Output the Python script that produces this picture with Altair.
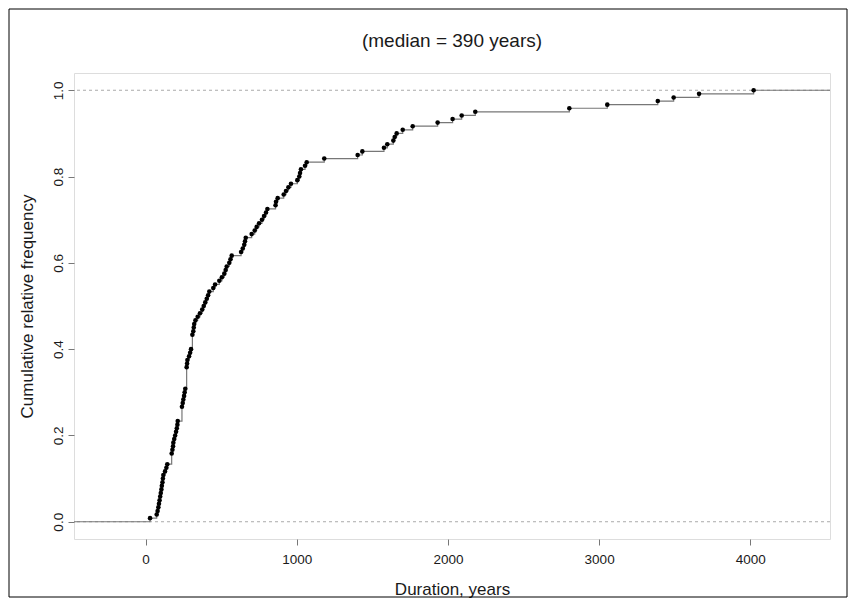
import altair as alt
import pandas as pd

# ---- data ----
durations = [
    30, 74, 80, 85, 89, 93, 97, 101, 105, 108, 112, 115, 118, 129, 138, 144, 173, 173, 173, 178,
    182, 184, 190, 196, 202, 207, 211, 213, 241, 241, 241, 241, 246, 250, 255, 259, 263, 272, 272, 272,
    272, 272, 272, 275, 277, 288, 295, 301, 310, 310, 310, 310, 316, 319, 322, 330, 345, 360, 375, 385,
    395, 405, 414, 422, 448, 460, 488, 505, 521, 530, 537, 554, 562, 570, 632, 643, 653, 658, 663, 702,
    722, 735, 751, 770, 784, 797, 806, 860, 863, 874, 914, 929, 945, 962, 1004, 1017, 1022, 1028, 1055, 1066,
    1182, 1403, 1434, 1577, 1599, 1639, 1648, 1661, 1701, 1767, 1932, 2031, 2091, 2181, 2803, 3054, 3388, 3493, 3661, 4022,
]
title_text = "(median = 390 years)"
x_label = "Duration, years"
y_label = "Cumulative relative frequency"
x_ticks = [0, 1000, 2000, 3000, 4000]
y_ticks = [0.0, 0.2, 0.4, 0.6, 0.8, 1.0]
x_domain = [-473, 4527]
y_domain = [-0.04, 1.04]
ref_levels = [0.0, 1.0]

# empirical cumulative distribution of the durations
n = len(durations)
knots = sorted(set(durations))
ecdf = [sum(1 for d in durations if d <= k) / n for k in knots]
pts = pd.DataFrame({"duration": knots, "F": ecdf})
line_df = pd.DataFrame({"duration": [x_domain[0]] + knots + [x_domain[1]],
                        "F": [0.0] + ecdf + [1.0]})
ref_df = pd.DataFrame({"F": ref_levels})
one_df = pd.DataFrame({"label": [title_text]})

FONT = "Liberation Sans, Arial, sans-serif"
TXT = "#1a1a1a"
W, H = 756, 466

xsc = alt.Scale(domain=x_domain, nice=False, zero=False)
ysc = alt.Scale(domain=y_domain, nice=False, zero=False)

xax = alt.Axis(values=x_ticks, format="d", title=x_label, grid=False, domain=False,
               tickSize=6, tickColor="#777", tickWidth=1,
               labelFont=FONT, labelFontSize=13.5, labelColor=TXT, labelPadding=7,
               labelBaseline="top", labelFlush=False, labelOverlap=False,
               titleFont=FONT, titleFontSize=17, titleFontWeight="normal", titleColor=TXT,
               titleX=W / 2, titleY=55, titleBaseline="alphabetic", titleAlign="center")
yax = alt.Axis(values=y_ticks, format=".1f", title=y_label, grid=False, domain=False,
               tickSize=6, tickColor="#777", tickWidth=1,
               labelFont=FONT, labelFontSize=13.5, labelColor=TXT, labelPadding=6,
               labelAngle=270, labelAlign="center", labelBaseline="alphabetic",
               labelFlush=False, labelOverlap=False,
               titleFont=FONT, titleFontSize=17, titleFontWeight="normal", titleColor=TXT,
               titleX=-42, titleY=H / 2, titleAngle=270, titleBaseline="alphabetic",
               titleAlign="center")

refs = alt.Chart(ref_df).mark_rule(color="#aaaaaa", strokeDash=[3, 3], strokeWidth=1).encode(
    y=alt.Y("F:Q", scale=ysc, axis=yax)
)

line = alt.Chart(line_df).mark_line(color="#777777", strokeWidth=1.2, interpolate="step-after").encode(
    x=alt.X("duration:Q", scale=xsc, axis=xax),
    y=alt.Y("F:Q", scale=ysc, axis=yax),
)

points = alt.Chart(pts).mark_point(filled=True, color="black", size=21, opacity=1).encode(
    x=alt.X("duration:Q", scale=xsc, axis=xax),
    y=alt.Y("F:Q", scale=ysc, axis=yax),
)

title_mark = alt.Chart(one_df).mark_text(font=FONT, fontSize=19, color=TXT, align="center",
                                         baseline="alphabetic").encode(
    x=alt.value(W / 2), y=alt.value(-26), text="label:N"
)

frame = alt.Chart(one_df).mark_rect(fillOpacity=0, stroke="black", strokeWidth=1).encode(
    x=alt.value(-65), x2=alt.value(W + 17), y=alt.value(-64), y2=alt.value(H + 58)
)

chart = alt.layer(refs, line, points, title_mark, frame).properties(
    width=W, height=H,
    padding={"left": 66, "top": 65, "right": 18, "bottom": 59},
    autosize=alt.AutoSizeParams(type="none"),
).configure_view(stroke="#777777", strokeWidth=1.2).configure(background="white")

chart.save("out.html", embed_options={"renderer": "svg", "actions": False})
